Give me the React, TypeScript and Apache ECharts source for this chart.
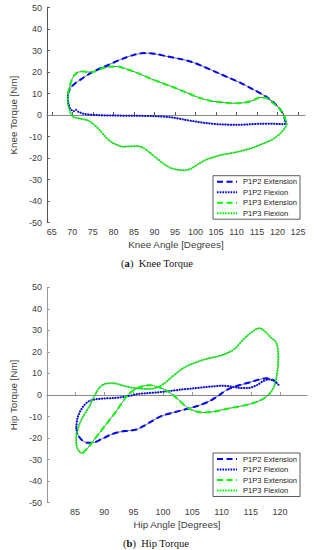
import React, { useEffect, useRef } from "react";
import * as echarts from "echarts";

const kneeTicks = [65, 70, 75, 80, 85, 90, 95, 100, 105, 110, 115, 120, 125];
const hipTicks = [85, 90, 95, 100, 105, 110, 115, 120];
const seriesNames = ["P1P2 Extension", "P1P2 Flexion", "P1P3 Extension", "P1P3 Flexion"];

const kneeP1P2Ext: number[][] = [
  [68.9, 9.5], [69.5, 12.5], [70.5, 14.5], [72, 16.5], [74, 19], [76.5, 21.5], [79, 23.5],
  [82, 26], [85, 28], [87.5, 28.8], [90, 28.5], [93, 27.3], [96, 26.2], [99, 24.8],
  [102, 22.5], [105, 20], [108, 17.5], [111, 15], [114, 12], [117, 8.8], [119, 6],
  [120.5, 3], [121.5, 0], [122, -4],
];
const kneeP1P2Flex: number[][] = [
  [122, -4], [121, -4.2], [119, -4], [116, -4], [113, -4.3], [110, -4.5], [106, -4.3],
  [103, -3.8], [100, -3], [97, -2], [94, -1], [90, -0.5], [85, -0.3], [80, -0.2], [76, 0],
  [73, 0.5], [71.5, 1.5], [70.8, 2.5], [70.3, 1.8], [69.5, 3], [69, 6], [68.9, 9.5],
];
const kneeP1P3Ext: number[][] = [
  [68.9, 9.5], [69.3, 13], [70, 17], [71, 19.5], [72.5, 20.3], [74, 20], [75.5, 20.2],
  [77, 21.5], [79, 22.5], [81, 22.6], [83, 21.5], [86, 19.5], [89, 17], [92, 14.8],
  [95, 12.7], [98, 10.3], [101, 8], [104, 6.5], [107, 5.8], [110, 5.5], [112, 5.8],
  [114, 6.8], [115.8, 8.2], [117.5, 7.8], [119, 5.5], [120.5, 3], [121.5, 0], [122.3, -4],
];
const kneeP1P3Flex: number[][] = [
  [122.3, -4], [121.8, -6], [120.7, -8.5], [119, -11], [117.6, -12.4], [115.5, -14],
  [113.8, -15.3], [110, -17.2], [106.1, -18.6], [104, -19.8], [102.3, -21], [100.5, -23],
  [99, -24.8], [97.5, -25.6], [96, -25.5], [94, -24.6], [92.4, -22.8], [90.5, -20],
  [88.6, -17], [87, -14.9], [85.5, -14.4], [84, -14.5], [82.4, -14.7], [80.8, -13.8],
  [79.4, -12.4], [78, -10], [76.7, -7], [75, -4], [73.5, -2.3], [71.5, -1.5], [70, -0.5],
  [69.3, 2.5], [68.9, 6], [68.9, 9.5],
];

const hipP1P2Ext: number[][] = [
  [85.2, -15], [85.5, -18.5], [86.2, -21], [87.2, -22.2], [88.3, -22], [89.5, -20.5],
  [91, -18.5], [92.5, -17.2], [94, -16.6], [95.5, -16], [97, -14], [98.5, -11.5],
  [100, -9.5], [102, -8], [104, -6.5], [106, -5], [108, -2.8], [109.5, -0.3], [111, 2.5],
  [113, 4.5], [115, 6], [116.5, 7.2], [117.7, 7.8], [118.8, 7], [119.5, 5.5], [119.8, 4.5],
];
const hipP1P2Flex: number[][] = [
  [119.8, 4.5], [119, 6.5], [118, 7.2], [117, 6.2], [116, 4.5], [114.5, 3.2], [113, 3.3],
  [111.5, 4], [110, 4.3], [108.5, 4], [107, 3.6], [105, 3], [103, 2.5], [101, 1.8],
  [99, 1.2], [97, 0.8], [95.5, 0.4], [94.5, -0.3], [93, -1], [91.5, -1.4], [90, -1.6],
  [88.5, -2], [87.3, -3], [86.5, -5], [85.8, -8], [85.4, -11], [85.2, -15],
];
const hipP1P3Ext: number[][] = [
  [86.3, -27], [87.2, -24.5], [88.2, -21], [89.2, -17.5], [90.2, -14], [91.2, -10.5],
  [92.3, -6.5], [93.3, -2.5], [94.3, 0.8], [95.5, 3], [96.8, 4.3], [97.8, 4.5], [99, 3.8],
  [100.3, 2.5], [101.5, 0.5], [102.8, -2.5], [104, -5.5], [105.3, -7.3], [106.8, -8.2],
  [108.5, -7.8], [110, -7], [112, -5.8], [114, -4.8], [116, -3.2], [117.3, -1.5], [118.2, 0.5],
];
const hipP1P3Flex: number[][] = [
  [118.2, 0.5], [119, 4], [119.5, 10], [119.7, 17], [119.6, 22], [119.2, 25], [118.5, 26.5],
  [117.8, 28.5], [117, 30.5], [116.4, 31], [115.7, 30.2], [115, 28.8], [114.2, 27],
  [113.3, 24.5], [112.3, 21.5], [111, 19.5], [109.5, 18], [107.5, 16.8], [105.5, 15],
  [103.5, 12.5], [101.8, 9], [100.3, 5.5], [99, 3.5], [97.5, 2.8], [96, 3], [94.5, 3.5],
  [93, 4.5], [91.5, 5.5], [90.3, 5.3], [89.3, 3.8], [88.4, 0], [87.5, -5], [86.6, -9],
  [86, -12], [85.5, -15.5], [85.2, -20], [85.3, -24], [85.8, -26.5], [86.3, -27],
];

const BLUE = "#0000ff";
const GREEN = "#00ff00";
const DASH = [6, 3.5];
const DOT = [1.6, 1.1];
const FONT = "'Liberation Sans', Arial, sans-serif";
const SERIF = "'Liberation Serif', 'Times New Roman', serif";

function mkLine(name: string, data: number[][], gi: number, color: string, dash: number[] | null, width: number, z: number) {
  return {
    type: "line",
    name,
    data,
    xAxisIndex: gi,
    yAxisIndex: gi,
    smooth: 0.3,
    symbol: "none",
    showSymbol: false,
    z,
    silent: true,
    lineStyle: { color, width, type: dash ? dash : "solid", cap: "butt" },
    itemStyle: { color },
  };
}

function gridSeries(gi: number, sets: number[][][]) {
  const under = sets.map((d, i) => {
    const s: any = mkLine("under" + gi + "_" + i, d, gi, "#3a3a3a", null, 0.7, 2);
    if (i === 0) {
      s.markLine = {
        silent: true,
        symbol: "none",
        label: { show: false },
        lineStyle: { color: "#8a8a8a", width: 1, type: "solid" },
        data: [{ yAxis: 0 }],
        z: 1,
      };
    }
    return s;
  });
  const colors = [BLUE, BLUE, GREEN, GREEN];
  const dashes = [DASH, DOT, DASH, DOT];
  const main = sets.map((d, i) => mkLine(seriesNames[i], d, gi, colors[i], dashes[i], 2, 3));
  return [...under, ...main];
}

function xAxisCfg(gi: number, min: number, max: number, ticks: number[], name: string, color: string) {
  return {
    type: "value",
    gridIndex: gi,
    min,
    max,
    name,
    nameLocation: "middle",
    nameGap: 17,
    nameTextStyle: { fontFamily: FONT, fontSize: 9.8, color: "#404040" },
    axisLine: { show: true, lineStyle: { color, width: 1 } },
    axisTick: { show: true, inside: true, length: 3, customValues: ticks, lineStyle: { color } },
    axisLabel: { customValues: ticks, fontFamily: FONT, fontSize: 9, color: "#404040", margin: 5 },
    splitLine: { show: false },
  };
}

function yAxisCfg(gi: number, name: string, color: string) {
  return {
    type: "value",
    gridIndex: gi,
    min: -50,
    max: 50,
    interval: 10,
    name,
    nameLocation: "middle",
    nameGap: 21,
    nameTextStyle: { fontFamily: FONT, fontSize: 9.8, color: "#404040" },
    axisLine: { show: true, lineStyle: { color, width: 1 } },
    axisTick: { show: true, inside: true, length: 3, lineStyle: { color } },
    axisLabel: { fontFamily: FONT, fontSize: 9, color: "#404040", margin: 5 },
    splitLine: { show: false },
  };
}

function legendCfg(top: number) {
  return {
    data: seriesNames,
    orient: "vertical",
    left: 213,
    top,
    padding: [2, 3, 2, 3],
    itemGap: 2.5,
    itemWidth: 20,
    itemHeight: 7.5,
    selectedMode: false,
    backgroundColor: "#ffffff",
    borderColor: "#333333",
    borderWidth: 0.8,
    borderRadius: 0,
    itemStyle: { opacity: 0 },
    lineStyle: { width: 2 },
    textStyle: { fontFamily: FONT, fontSize: 7.6, color: "#222222", padding: [0, 0, 0, 1] },
  };
}

export default function App() {
  const ref = useRef<HTMLDivElement>(null);
  useEffect(() => {
    const chart = echarts.init(ref.current!, null, { renderer: "svg" });
    const option: any = {
      animation: false,
      backgroundColor: "#ffffff",
      grid: [
        { left: 32, top: 7.5, width: 273, height: 215.2, containLabel: false },
        { left: 32.5, top: 287.3, width: 274.5, height: 215.4, containLabel: false },
      ],
      xAxis: [
        xAxisCfg(0, 63.8, 126.7, kneeTicks, "Knee Angle [Degrees]", "#555555"),
        xAxisCfg(1, 80.2, 124.6, hipTicks, "Hip Angle [Degrees]", "#999999"),
      ],
      yAxis: [yAxisCfg(0, "Knee Torque [Nm]", "#555555"), yAxisCfg(1, "Hip Torque [Nm]", "#999999")],
      legend: [legendCfg(175.7), legendCfg(453)],
      series: [
        ...gridSeries(0, [kneeP1P2Ext, kneeP1P2Flex, kneeP1P3Ext, kneeP1P3Flex]),
        ...gridSeries(1, [hipP1P2Ext, hipP1P2Flex, hipP1P3Ext, hipP1P3Flex]),
      ],
      graphic: [
        {
          type: "text",
          x: 157,
          y: 263,
          style: {
            text: "({b|a})  Knee Torque",
            fontFamily: SERIF,
            fontSize: 10.5,
            fill: "#111111",
            align: "center",
            verticalAlign: "middle",
            rich: { b: { fontFamily: SERIF, fontSize: 10.5, fontWeight: "bold", fill: "#111111" } },
          },
        },
        {
          type: "text",
          x: 156,
          y: 543,
          style: {
            text: "({b|b})  Hip Torque",
            fontFamily: SERIF,
            fontSize: 10.5,
            fill: "#111111",
            align: "center",
            verticalAlign: "middle",
            rich: { b: { fontFamily: SERIF, fontSize: 10.5, fontWeight: "bold", fill: "#111111" } },
          },
        },
      ],
    };
    chart.setOption(option);
    return () => chart.dispose();
  }, []);
  return (
    <div
      ref={ref}
      style={{ position: "absolute", left: 0, top: 0, width: 314, height: 550, background: "#fff" }}
    />
  );
}
